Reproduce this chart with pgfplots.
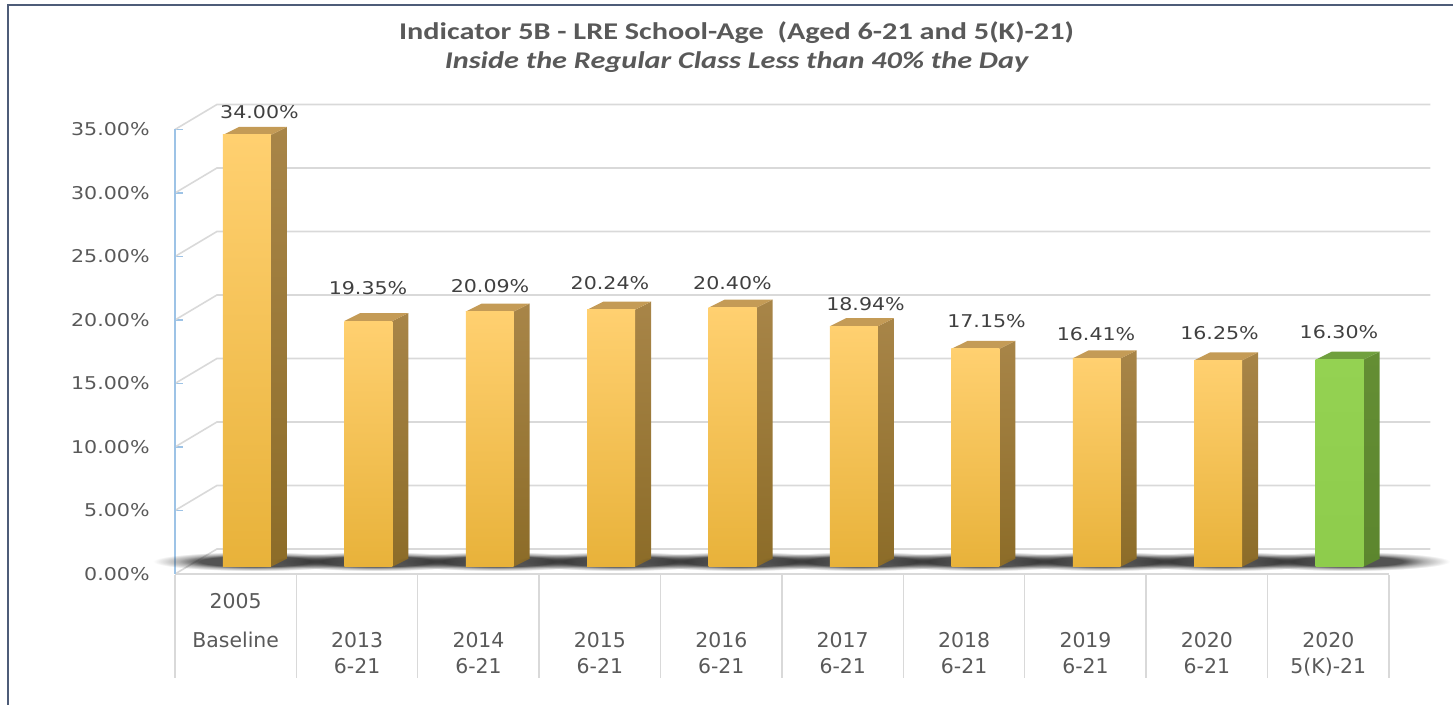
\documentclass[border=0pt]{standalone}
\usepackage{pgfplots}
\pgfplotsset{compat=1.18}
\usetikzlibrary{fadings}
\usepackage{fontspec}
\setmainfont{DejaVu Sans}
\newfontfamily\titlefont[FakeStretch=1.26]{Carlito}
\newfontfamily\widefont[FakeStretch=1.17]{DejaVu Sans}
\definecolor{frameblue}{RGB}{78,92,120}
\definecolor{gridgray}{RGB}{217,217,217}
\definecolor{axisblue}{RGB}{157,195,230}
\definecolor{tickgray}{RGB}{89,89,89}
\definecolor{labgray}{RGB}{64,64,64}
\definecolor{titlegray}{RGB}{89,89,89}
\definecolor{oTop}{RGB}{255,208,112}
\definecolor{oBot}{RGB}{232,178,58}
\definecolor{oSideT}{RGB}{168,133,72}
\definecolor{oSideB}{RGB}{140,108,40}
\definecolor{oTopF}{RGB}{196,155,86}
\definecolor{gTop}{RGB}{148,210,82}
\definecolor{gBot}{RGB}{142,204,76}
\definecolor{gSideT}{RGB}{100,142,52}
\definecolor{gSideB}{RGB}{92,134,46}
\definecolor{gTopF}{RGB}{112,160,62}
\definecolor{shadowc}{RGB}{40,40,40}
\pgfdeclareradialshading{shfadeshade}{\pgfpoint{0bp}{0bp}}{color(0bp)=(pgftransparent!0); color(13bp)=(pgftransparent!0); color(18bp)=(pgftransparent!55); color(24bp)=(pgftransparent!100); color(50bp)=(pgftransparent!100)}
\pgfdeclarefading{shfade}{\pgfuseshading{shfadeshade}}
\tikzset{dl/.style={font=\widefont\fontsize{8.8}{11}\selectfont, text=labgray, anchor=base, inner sep=0pt},
         cl/.style={font=\fontsize{10.2}{12}\selectfont, text=tickgray, anchor=base, inner sep=0pt}}

% #1 index, #2 value, #3 front top, #4 front bottom, #5 side top, #6 side bottom, #7 top face
\newcommand\tdbar[7]{%
  \pgfmathsetmacro\xl{#1-0.105}%
  \pgfmathsetmacro\xr{#1+0.29}%
  \pgfmathsetmacro\xls{#1+0.027}%
  \pgfmathsetmacro\xrs{#1+0.422}%
  \pgfmathsetmacro\yt{#2+0.57}%
  \pgfmathsetmacro\yts{#2+1.20}%
  \pgfmathsetmacro\cx{#1+0.16}%
  \edef\temp{%
    \noexpand\fill[shadowc, path fading=shfade, fill opacity=0.8] (axis cs:\cx,1.0) ellipse [x radius=53pt, y radius=5pt];
    \noexpand\addplot[draw=none, top color=#5, bottom color=#6] coordinates {(\xr,0.57) (\xrs,1.20) (\xrs,\yts) (\xr,\yt)} -- cycle;
    \noexpand\addplot[draw=none, fill=#7] coordinates {(\xl,\yt) (\xr,\yt) (\xrs,\yts) (\xls,\yts)} -- cycle;
    \noexpand\addplot[draw=none, top color=#3, bottom color=#4] coordinates {(\xl,0.57) (\xr,0.57) (\xr,\yt) (\xl,\yt)} -- cycle;
  }\temp
}

\begin{document}
\begin{tikzpicture}
\begin{axis}[
  at={(87.5pt,65.5pt)}, anchor=south west,
  x=60.7pt, y=6.35pt,
  xmin=-0.5, xmax=9.5, ymin=0, ymax=35,
  enlargelimits=false,
  clip=false,
  axis line style={draw=none},
  xtick=\empty,
  ytick={0,5,...,35},
  ytick pos=left,
  tick align=inside,
  major tick length=4pt,
  major tick style={color=axisblue, line width=0.8pt},
  /pgf/number format/assume math mode=true,
  yticklabel={\pgfmathprintnumber[fixed, fixed zerofill, precision=2]{\tick}\%},
  yticklabel style={font=\widefont\fontsize{8.8}{10}\selectfont, color=tickgray, anchor=east, inner sep=0pt, xshift=-12.5pt},
]
% back wall grid and left wall diagonals
\pgfplotsinvokeforeach{0,5,10,15,20,25,30,35}{
  \addplot[gridgray, line width=0.8pt] coordinates {(-0.5,#1) (-0.154,#1+1.97) (9.84,#1+1.97)};
}
% floor front edge
\addplot[gridgray, line width=1.4pt] coordinates {(-0.5,0) (9.5,0)};
% y axis line
\addplot[axisblue, line width=0.8pt] coordinates {(-0.5,0) (-0.5,35)};
% category separators
\pgfplotsinvokeforeach{-0.5,0.5,1.5,2.5,3.5,4.5,5.5,6.5,7.5,8.5,9.5}{
  \addplot[gridgray, line width=0.7pt] coordinates {(#1,-0.08) (#1,-8.19)};
}
% bars
\tdbar{0}{34.00}{oTop}{oBot}{oSideT}{oSideB}{oTopF}
\tdbar{1}{19.35}{oTop}{oBot}{oSideT}{oSideB}{oTopF}
\tdbar{2}{20.09}{oTop}{oBot}{oSideT}{oSideB}{oTopF}
\tdbar{3}{20.24}{oTop}{oBot}{oSideT}{oSideB}{oTopF}
\tdbar{4}{20.40}{oTop}{oBot}{oSideT}{oSideB}{oTopF}
\tdbar{5}{18.94}{oTop}{oBot}{oSideT}{oSideB}{oTopF}
\tdbar{6}{17.15}{oTop}{oBot}{oSideT}{oSideB}{oTopF}
\tdbar{7}{16.41}{oTop}{oBot}{oSideT}{oSideB}{oTopF}
\tdbar{8}{16.25}{oTop}{oBot}{oSideT}{oSideB}{oTopF}
\tdbar{9}{16.30}{gTop}{gBot}{gSideT}{gSideB}{gTopF}
% data labels
\node[dl] at (axis cs:0.196,35.83) {34.00\%};
\node[dl] at (axis cs:1.090,21.97) {19.35\%};
\node[dl] at (axis cs:2.095,22.13) {20.09\%};
\node[dl] at (axis cs:3.083,22.44) {20.24\%};
\node[dl] at (axis cs:4.092,22.44) {20.40\%};
\node[dl] at (axis cs:5.188,20.71) {18.94\%};
\node[dl] at (axis cs:6.185,19.37) {17.15\%};
\node[dl] at (axis cs:7.087,18.35) {16.41\%};
\node[dl] at (axis cs:8.104,18.50) {16.25\%};
\node[dl] at (axis cs:9.088,18.58) {16.30\%};
% category labels
\node[cl] at (axis cs:0,-2.68) {2005};
\node[cl] at (axis cs:0,-5.75) {Baseline};
\node[cl] at (axis cs:1,-5.75) {2013};
\node[cl] at (axis cs:1,-7.80) {6-21};
\node[cl] at (axis cs:2,-5.75) {2014};
\node[cl] at (axis cs:2,-7.80) {6-21};
\node[cl] at (axis cs:3,-5.75) {2015};
\node[cl] at (axis cs:3,-7.80) {6-21};
\node[cl] at (axis cs:4,-5.75) {2016};
\node[cl] at (axis cs:4,-7.80) {6-21};
\node[cl] at (axis cs:5,-5.75) {2017};
\node[cl] at (axis cs:5,-7.80) {6-21};
\node[cl] at (axis cs:6,-5.75) {2018};
\node[cl] at (axis cs:6,-7.80) {6-21};
\node[cl] at (axis cs:7,-5.75) {2019};
\node[cl] at (axis cs:7,-7.80) {6-21};
\node[cl] at (axis cs:8,-5.75) {2020};
\node[cl] at (axis cs:8,-7.80) {6-21};
\node[cl] at (axis cs:9,-5.75) {2020};
\node[cl] at (axis cs:9,-7.80) {5(K)-21};
\end{axis}
% title
\node[anchor=base, inner sep=0pt, text=titlegray, font=\titlefont\bfseries\fontsize{12}{14}\selectfont] at (368.25pt,332.5pt) {Indicator 5B - LRE School-Age \ (Aged 6-21 and 5(K)-21)};
\node[anchor=base, inner sep=0pt, text=titlegray, font=\titlefont\bfseries\itshape\fontsize{12}{14}\selectfont] at (368.25pt,318pt) {Inside the Regular Class Less than 40\% the Day};
% frame
\draw[frameblue, line width=1.2pt] (4pt,0pt) -- (4pt,350pt) -- (726.5pt,350pt);
\pgfresetboundingbox
\path[use as bounding box] (0,0) rectangle (726.5pt,352.5pt);
\end{tikzpicture}
\end{document}
